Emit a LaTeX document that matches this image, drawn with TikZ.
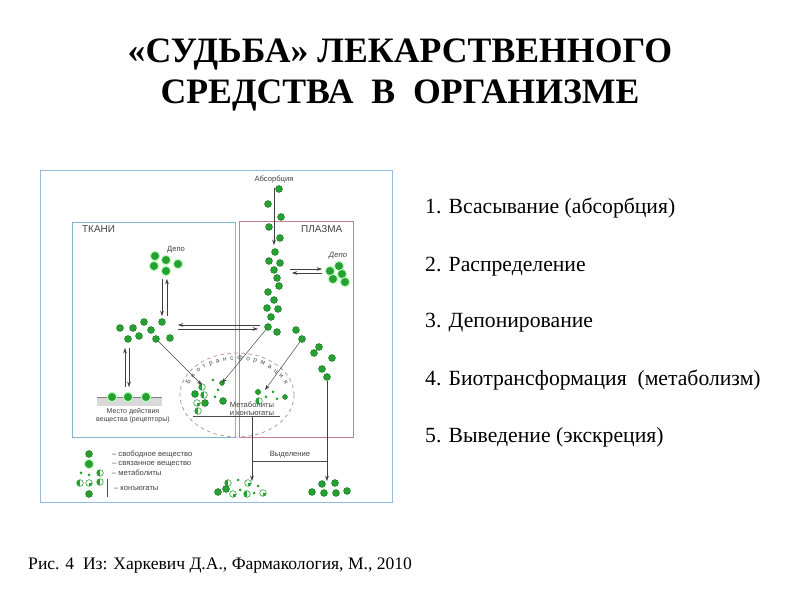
\documentclass[tikz,border=0pt]{standalone}
\usepackage{fontspec}
\setmainfont{Liberation Serif}
\setsansfont{Liberation Sans}
\usetikzlibrary{positioning,arrows.meta,decorations.text}
\definecolor{verde}{RGB}{38,160,50}
\definecolor{verdeosc}{RGB}{20,110,30}
\definecolor{marco}{RGB}{150,185,225}
\definecolor{tejido}{RGB}{125,185,200}
\definecolor{plasma}{RGB}{200,125,150}
\definecolor{elipse}{RGB}{195,150,160}
\begin{document}
\begin{tikzpicture}[x=0.03cm, y=-0.03cm, every node/.style={font=\sffamily\fontsize{6.5}{7}\selectfont, align=center, text=black!75},
  punto/.style={circle, fill=verde, draw=verdeosc, line width=0.3pt, inner sep=0, minimum size=2.1mm},
  ligado/.style={circle, fill=verde, draw=green!30!white, line width=0.8pt, inner sep=0, minimum size=2.8mm},
  medio/.style={circle, draw=verde, fill=white, line width=0.5pt, inner sep=0, minimum size=2mm,
    path picture={\fill[verde] (path picture bounding box.north) rectangle (path picture bounding box.south west);}},
  abierto/.style={circle, draw=verde, fill=white, line width=0.5pt, inner sep=0, minimum size=2mm,
    path picture={\fill[verde] (path picture bounding box.center) rectangle (path picture bounding box.south east);}},
  chico/.style={circle, fill=verde, inner sep=0, minimum size=0.9mm},
  flecha/.style={-{Stealth[length=1.6mm, width=1.1mm]}, line width=0.4pt, black!75},
  linea/.style={line width=0.4pt, black!70},
  lista/.style={anchor=west, inner sep=0, text=black, font=\rmfamily\fontsize{18.5}{20}\selectfont}]
\useasboundingbox (0,0) rectangle (800,600);
\node[text=black, font=\rmfamily\bfseries\fontsize{30.5}{35}\selectfont] (tit) at (400,75) {«СУДЬБА» ЛЕКАРСТВЕННОГО\\СРЕДСТВА\ \ В\ \ ОРГАНИЗМЕ};
\node[lista] (l1) at (425,208) {1. Всасывание (абсорбция)};
\node[lista] (l2) at (425,267) {2. Распределение};
\node[lista] (l3) at (425,323) {3. Депонирование};
\node[lista] (l4) at (425,380) {4. Биотрансформация\ \ (метаболизм)};
\node[lista] (l5) at (425,437) {5. Выведение (экскреция)};
\node[anchor=west, inner sep=0, text=black, font=\rmfamily\fontsize{15}{17}\selectfont] (fuente) at (28,566) {Рис. 4\ \ Из: Харкевич Д.А., Фармакология, М., 2010};

\draw[marco, line width=0.8pt] (40,170) rectangle (392,502);
\draw[tejido, line width=0.8pt] (72,222) rectangle (235,437);
\draw[plasma, line width=0.8pt] (239,221) rectangle (353,437);
\node[anchor=west, font=\sffamily\fontsize{8.5}{9}\selectfont] (tk) at (78,229) {ТКАНИ};
\node[anchor=west, font=\sffamily\fontsize{8.5}{9}\selectfont] (pz) at (297,229) {ПЛАЗМА};
\node (abs) at (274,180) {Абсорбция};
\node (dt) at (176,250) {Депо};
\node[font=\sffamily\itshape\fontsize{6.5}{7}\selectfont] (dp) at (338,256) {Депо};

\draw[elipse, dashed, line width=0.7pt] (237,395) ellipse [x radius=57, y radius=42];
\path[decorate, decoration={text along path, text align=fit to path,
  text={|\sffamily\fontsize{5.5}{6}\selectfont\color{black!70}|Биотрансформация}}]
  (237,395) ++(197:50 and 35) arc [start angle=197, end angle=343, x radius=50, y radius=35];

\fill[black!15] (97,397) rectangle (162,406); \draw[black!50] (97,397) -- (162,397);
\foreach \p [count=\i] in {(112,397),(128,397),(146,397)} \node[ligado] (rc\i) at \p {};
\node[font=\sffamily\fontsize{6}{7}\selectfont] (rec) at (133,416) {Место действия\\вещества (рецепторы)};

\foreach \p [count=\i] in {(279,189),(268,204),(281,217),(269,227),(280,238),(275,252),(269,261),(280,263),
  (274,270),(277,278),(279,286),(268,292),(274,300),(267,308),(278,309),(271,317),(268,327),(277,332),
  (296,330),(302,339),(319,347),(314,353),(332,358),(322,369),(327,377)} \node[punto] (pl\i) at \p {};
\foreach \p [count=\i] in {(155,256),(166,260),(154,266),(178,264),(166,271)} \node[ligado] (dt\i) at \p {};
\foreach \p [count=\i] in {(330,271),(339,266),(342,274),(333,279),(345,282)} \node[ligado] (dp\i) at \p {};
\foreach \p [count=\i] in {(120,328),(133,328),(144,322),(151,330),(162,322),(128,339),(139,336),(156,339),(170,338)}
  \node[punto] (tc\i) at \p {};

\node[medio] (b1) at (202,387) {}; \node[punto] (b2) at (195,394) {}; \node[medio] (b3) at (204,395) {};
\node[chico] (b4) at (213,380) {}; \node[punto, minimum size=1.5mm] (b5) at (222,383) {}; \node[chico] (b6) at (218,390) {};
\node[chico] (b7) at (215,397) {}; \node[punto] (b8) at (223,401) {}; \node[abierto] (b9) at (197,403) {};
\node[punto] (b10) at (205,403) {}; \node[medio] (b11) at (198,411) {};
\node[punto, minimum size=1.6mm] (b12) at (258,392) {}; \node[chico] (b13) at (266,397) {}; \node[chico] (b14) at (273,392) {};
\node[medio] (b15) at (259,401) {}; \node[chico] (b16) at (277,399) {}; \node[punto, minimum size=1.5mm] (b17) at (285,397) {};
\node (met) at (252,409) {Метаболиты\\и конъюгаты};

\node[medio] (x1) at (228,483) {}; \node[chico] (x2) at (238,480) {}; \node[abierto] (x3) at (248,483) {};
\node[chico] (x4) at (258,486) {}; \node[punto] (x5) at (218,492) {}; \node[punto] (x6) at (226,489) {};
\node[abierto] (x7) at (233,494) {}; \node[chico] (x8) at (240,490) {}; \node[medio] (x9) at (247,494) {};
\node[chico] (x10) at (254,493) {}; \node[abierto] (x11) at (263,493) {};
\foreach \p [count=\i] in {(322,484),(335,483),(312,492),(324,493),(336,493),(347,491)} \node[punto] (ex\i) at \p {};
\node (vyd) at (290,455) {Выделение};

\node[punto] (lg1) at (89,454) {}; \node[anchor=west] (tl1) at (108,454) {– свободное вещество};
\node[ligado] (lg2) at (89,464) {}; \node[anchor=west] (tl2) at (108,464) {– связанное вещество};
\node[chico] (lg3) at (81,473) {}; \node[chico] (lg4) at (89,475) {}; \node[medio] (lg5) at (100,473) {};
\node[anchor=west] (tl3) at (108,473) {– метаболиты};
\node[medio] (lg6) at (80,483) {}; \node[abierto] (lg7) at (89,483) {}; \node[medio] (lg8) at (100,482) {};
\node[punto] (lg9) at (89,494) {}; \node[anchor=west] (tl4) at (110,488) {– конъюгаты};
\draw[linea] (107,479) -- (107,497);

\coordinate (a1) at (274,245);
\coordinate (t1) at (162,279); \coordinate (t2) at (162,316); \coordinate (t3) at (167,316); \coordinate (t4) at (167,279);
\coordinate (h1) at (260,325); \coordinate (h2) at (178,325); \coordinate (h3) at (178,329); \coordinate (h4) at (258,329);
\coordinate (p1) at (290,269); \coordinate (p2) at (322,269); \coordinate (p3) at (322,273); \coordinate (p4) at (292,273);
\coordinate (r1) at (125,387); \coordinate (r2) at (125,348); \coordinate (r3) at (129,348); \coordinate (r4) at (129,387);
\coordinate (e1) at (202,385); \coordinate (e2) at (222,383); \coordinate (e3) at (265,390);
\coordinate (m1) at (193,416); \coordinate (m2) at (280,416); \coordinate (m3) at (252,416);
\coordinate (s1) at (252,481); \coordinate (s2) at (327,481); \coordinate (s3) at (252,461); \coordinate (s4) at (327,461);
\draw[flecha] (abs) -- (a1); \draw[flecha] (t1) -- (t2); \draw[flecha] (t3) -- (t4);
\draw[flecha] (h1) -- (h2); \draw[flecha] (h3) -- (h4); \draw[flecha] (p1) -- (p2); \draw[flecha] (p3) -- (p4);
\draw[flecha] (r1) -- (r2); \draw[flecha] (r3) -- (r4);
\draw[flecha] (tc8) -- (e1); \draw[flecha] (pl17) -- (e2); \draw[flecha] (pl20) -- (e3);
\draw[linea] (m1) -- (m2); \draw[flecha] (m3) -- (s1); \draw[flecha] (pl25) -- (s2); \draw[linea] (s3) -- (s4);
\end{tikzpicture}
\end{document}
